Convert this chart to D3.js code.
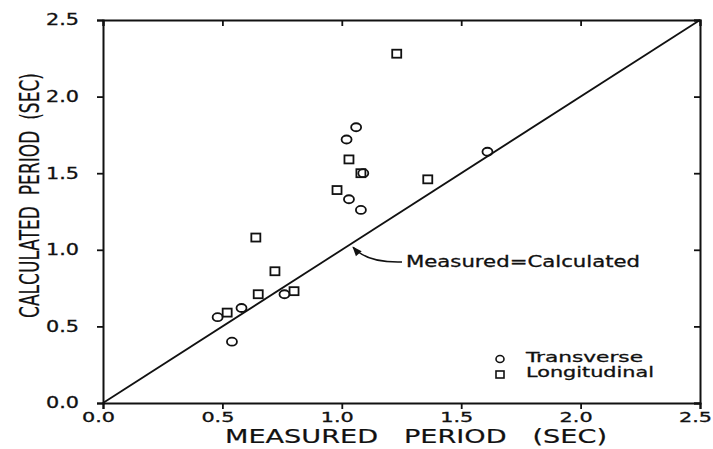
<!DOCTYPE html>
<html>
<head>
<meta charset="utf-8">
<script src="https://cdn.jsdelivr.net/npm/d3@7"></script>
<style>
  html, body { margin: 0; padding: 0; background: #fff; }
  svg { display: block; }
  text { font-family: "DejaVu Sans", sans-serif; fill: #111; stroke: #111; stroke-width: 0.3; }
</style>
</head>
<body>
<svg id="chart" width="713" height="449"></svg>
<script>
// Measured vs calculated natural periods (seconds)
const transverseMeasured   = [1.06, 1.02, 1.09, 1.03, 1.08, 1.61, 0.76, 0.58, 0.48, 0.54];
const transverseCalculated = [1.80, 1.72, 1.50, 1.33, 1.26, 1.64, 0.71, 0.62, 0.56, 0.40];
const longMeasured   = [1.23, 1.03, 1.08, 0.98, 1.36, 0.64, 0.72, 0.65, 0.80, 0.52];
const longCalculated = [2.28, 1.59, 1.50, 1.39, 1.46, 1.08, 0.86, 0.71, 0.73, 0.59];
const tickValues = [0.0, 0.5, 1.0, 1.5, 2.0, 2.5];
const seriesNames = ["Transverse", "Longitudinal"];
const referenceLabel = "Measured=Calculated";

const svg = d3.select("#chart");
const plotLeft = 103, plotRight = 700, plotTop = 20, plotBottom = 403;

const x = d3.scaleLinear().domain([0, 2.5]).range([plotLeft, plotRight]);
const y = d3.scaleLinear().domain([0, 2.5]).range([plotBottom, plotTop]);
const fmt = d3.format(".1f");

const ink = "#111";

// Frame axes: outward ticks with labels on bottom/left, inward ticks on top/right
const bottomAxis = d3.axisBottom(x).tickValues(tickValues).tickFormat(fmt).tickSize(6).tickPadding(3);
const leftAxis = d3.axisLeft(y).tickValues(tickValues).tickFormat(fmt).tickSize(6).tickPadding(18);
const topAxis = d3.axisTop(x).tickValues(tickValues).tickSize(-6).tickFormat("");
const rightAxis = d3.axisRight(y).tickValues(tickValues).tickSize(-6).tickFormat("");

function styleAxis(g, size) {
  g.select(".domain").attr("stroke", ink).attr("stroke-width", 2);
  g.selectAll(".tick line").attr("stroke", ink).attr("stroke-width", 1.8);
  g.selectAll(".tick text")
    .attr("font-family", "DejaVu Sans, sans-serif")
    .attr("font-size", size)
    .attr("textLength", 33)
    .attr("lengthAdjust", "spacingAndGlyphs")
    .attr("fill", ink);
}

svg.append("g").attr("transform", `translate(0,${plotBottom})`).call(bottomAxis).call(styleAxis, 14)
  .selectAll(".tick text").attr("dx", -5);
svg.append("g").attr("transform", `translate(${plotLeft},0)`).call(leftAxis).call(styleAxis, 15);
svg.append("g").attr("transform", `translate(0,${plotTop})`).call(topAxis).call(styleAxis, 15);
svg.append("g").attr("transform", `translate(${plotRight},0)`).call(rightAxis).call(styleAxis, 15);

// 1:1 reference line
svg.append("line")
  .attr("x1", x(0)).attr("y1", y(0))
  .attr("x2", x(2.5)).attr("y2", y(2.5))
  .attr("stroke", ink).attr("stroke-width", 1.8);

// Transverse points (open circles)
svg.append("g").selectAll("ellipse")
  .data(d3.zip(transverseMeasured, transverseCalculated))
  .join("ellipse")
  .attr("cx", d => x(d[0])).attr("cy", d => y(d[1]))
  .attr("rx", 5).attr("ry", 4)
  .attr("fill", "none").attr("stroke", ink).attr("stroke-width", 1.8);

// Longitudinal points (open squares)
svg.append("g").selectAll("rect")
  .data(d3.zip(longMeasured, longCalculated))
  .join("rect")
  .attr("x", d => x(d[0]) - 4.5).attr("y", d => y(d[1]) - 4)
  .attr("width", 9).attr("height", 8)
  .attr("fill", "none").attr("stroke", ink).attr("stroke-width", 1.8);

// Annotation for the 1:1 line, with a curved leader arrow
svg.append("defs").append("marker")
  .attr("id", "arrow").attr("viewBox", "0 0 10 10")
  .attr("refX", 9).attr("refY", 5)
  .attr("markerWidth", 8).attr("markerHeight", 6)
  .attr("orient", "auto")
  .append("path").attr("d", "M0,1 L10,5 L0,9 Z").attr("fill", ink);

const ax = 1.043;
const tipX = x(ax) + 1, tipY = y(ax) + 4;
const startX = 402, startY = 262;
svg.append("path")
  .attr("d", `M${startX},${startY} Q${tipX + 14},${startY + 1} ${tipX},${tipY}`)
  .attr("fill", "none").attr("stroke", ink).attr("stroke-width", 1.6)
  .attr("marker-end", "url(#arrow)");

svg.append("text")
  .attr("x", 406).attr("y", 267)
  .attr("font-size", 15)
  .attr("textLength", 234).attr("lengthAdjust", "spacingAndGlyphs")
  .text(referenceLabel);

// Legend
const legend = svg.append("g");
legend.append("ellipse")
  .attr("cx", 500).attr("cy", 359).attr("rx", 4).attr("ry", 3.5)
  .attr("fill", "none").attr("stroke", ink).attr("stroke-width", 1.6);
legend.append("rect")
  .attr("x", 496).attr("y", 371).attr("width", 8).attr("height", 7)
  .attr("fill", "none").attr("stroke", ink).attr("stroke-width", 1.6);
const legendWidths = [117, 128];
legend.selectAll("text")
  .data(seriesNames)
  .join("text")
  .attr("x", 526).attr("y", (d, i) => 362 + i * 15)
  .attr("font-size", 14)
  .attr("textLength", (d, i) => legendWidths[i]).attr("lengthAdjust", "spacingAndGlyphs")
  .text(d => d);

// Axis titles
svg.append("text")
  .attr("x", 225).attr("y", 443)
  .attr("font-size", 20)
  .attr("textLength", 382).attr("lengthAdjust", "spacingAndGlyphs")
  .attr("xml:space", "preserve")
  .style("stroke-width", 0.2)
  .text("MEASURED   PERIOD   (SEC)");

// Condensed vertical title: squeeze the run to a fixed length along the axis
const yTitleLength = 245;
const yTitle = svg.append("text")
  .attr("font-size", 27)
  .attr("xml:space", "preserve")
  .style("stroke-width", 0.2)
  .text("CALCULATED  PERIOD  (SEC)");
const natural = yTitle.node().getComputedTextLength();
yTitle.attr("transform", `translate(39,318) rotate(-90) scale(${yTitleLength / natural},1)`);
</script>
</body>
</html>
